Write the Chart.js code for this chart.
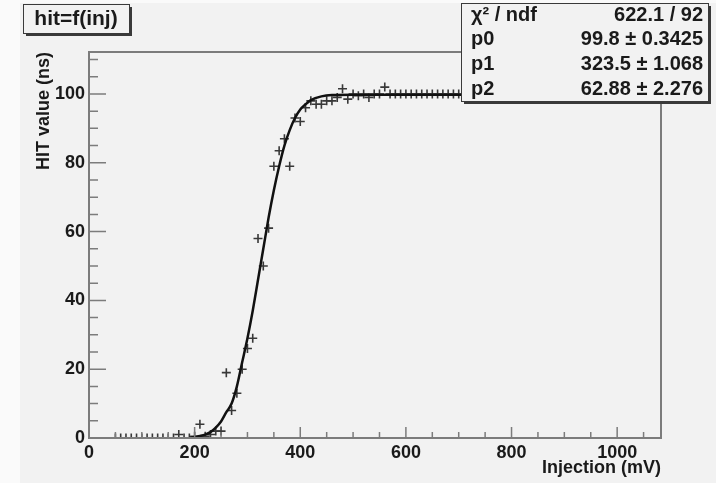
<!DOCTYPE html>
<html>
<head>
<meta charset="utf-8">
<script src="https://cdn.jsdelivr.net/npm/chart.js@4"></script>
<style>
  body { margin: 0; background: #fafafa; }
</style>
</head>
<body>
<canvas id="FitGraph" width="716" height="483"></canvas>
<script>
// measured points (injection in mV, hit value in ns)
var injX = [50, 60, 70, 80, 90, 100, 110, 120, 130, 140, 150, 160, 170, 180, 190,
  200, 210, 220, 230, 240, 250, 260, 270, 280, 290, 300, 310, 320, 330, 340,
  350, 360, 370, 380, 390, 400, 410, 420, 430, 440, 450, 460, 470, 480, 490,
  500, 510, 520, 530, 540, 550, 560, 570, 580, 590, 600, 610, 620, 630, 640,
  650, 660, 670, 680, 690, 700];
var hitY = [0, 0, 0, 0, 0, 0, 0, 0, 0, 0, 0, 0, 1, 0, 0,
  0.5, 4, 0.5, 1, 2, 2, 19, 8, 13, 20, 26, 29, 58, 50, 61,
  79, 83.5, 87, 79, 93, 92, 96, 98, 97, 97, 98, 98, 99, 101.5, 98.5,
  100, 99.5, 100, 99, 100, 100, 102, 100, 100, 100, 100, 100, 100, 100, 100,
  100, 100, 100, 100, 100, 100];

// fitted curve
var fitX = [190, 200, 210, 220, 230, 240, 250, 260, 270, 280, 290, 300, 310, 320,
  330, 340, 350, 360, 370, 380, 390, 400, 410, 420, 440, 460, 500, 600, 800, 1050];
var fitY = [0, 0.3, 0.6, 1, 1.7, 3, 4.8, 7.5, 10, 15, 22, 29, 37, 46,
  55, 64, 72, 79, 85, 89.5, 93, 95.5, 97, 98.2, 99.3, 99.7, 99.8, 99.8, 99.8, 99.8];

var xTicks = [0, 200, 400, 600, 800, 1000];
var yTicks = [0, 20, 40, 60, 80, 100];

var histTitle = 'hit=f(inj)';
var statNames = ['\u03c7\u00b2 / ndf', 'p0', 'p1', 'p2'];
var statValues = ['622.1 / 92', '99.8 \u00b1 0.3425', '323.5 \u00b1 1.068', '62.88 \u00b1 2.276'];

var FONT = '"Liberation Sans", Arial, sans-serif';

function pave(ctx, x, y, w, h) {
  ctx.fillStyle = '#3a3a3a';
  ctx.fillRect(x + 3, y + 3, w, h);
  ctx.fillStyle = '#f2f2f2';
  ctx.fillRect(x, y, w, h);
  ctx.strokeStyle = '#3a3a3a';
  ctx.lineWidth = 1;
  ctx.strokeRect(x + 0.5, y + 0.5, w, h);
}

var rootLook = {
  id: 'rootLook',
  beforeDraw: function (chart) {
    var ctx = chart.ctx;
    ctx.save();
    ctx.fillStyle = '#fafafa';
    ctx.fillRect(0, 0, chart.width, chart.height);
    ctx.fillStyle = '#f2f2f2';
    ctx.fillRect(20, 3, chart.width - 20, chart.height - 3);
    ctx.restore();
  },
  afterDraw: function (chart) {
    var ctx = chart.ctx;
    var a = chart.chartArea;
    var xs = chart.scales.x, ys = chart.scales.y;
    ctx.save();
    // frame
    ctx.strokeStyle = '#7c7c7c';
    ctx.lineWidth = 2;
    ctx.strokeRect(a.left, a.top, a.right - a.left, a.bottom - a.top);
    // ticks pointing inside, ROOT style
    ctx.lineWidth = 1.5;
    ctx.beginPath();
    for (var v = 0; v <= xs.max; v += 50) {
      var px = xs.getPixelForValue(v);
      var len = (v % 200 === 0) ? 11 : 6;
      ctx.moveTo(px, a.bottom);
      ctx.lineTo(px, a.bottom - len);
    }
    for (var w = 0; w <= ys.max; w += 5) {
      var py = ys.getPixelForValue(w);
      var l2 = (w % 20 === 0) ? 17 : 9;
      ctx.moveTo(a.left, py);
      ctx.lineTo(a.left + l2, py);
    }
    ctx.stroke();

    // title box
    pave(ctx, 23, 4, 106, 29);
    ctx.fillStyle = '#1a1a1a';
    ctx.font = 'bold 21px ' + FONT;
    ctx.textAlign = 'center';
    ctx.textBaseline = 'middle';
    ctx.fillText(histTitle, 76, 19);

    // stats box
    pave(ctx, 461, 3, 247, 98);
    ctx.fillStyle = '#1a1a1a';
    ctx.font = 'bold 20px ' + FONT;
    ctx.textBaseline = 'middle';
    for (var i = 0; i < statNames.length; i++) {
      var ty = 15 + i * 24.8;
      ctx.textAlign = 'left';
      ctx.fillText(statNames[i], 471, ty);
      ctx.textAlign = 'right';
      ctx.fillText(statValues[i], 703, ty);
    }
    ctx.restore();
  }
};

var pts = injX.map(function (x, i) { return { x: x, y: hitY[i] }; });
var fit = fitX.map(function (x, i) { return { x: x, y: fitY[i] }; });

var cfg = document.getElementById('FitGraph');
var myFitGraph = new Chart(cfg, {
  type: 'scatter',
  data: {
    datasets: [{
      label: 'fit',
      data: fit,
      showLine: true,
      borderColor: '#111111',
      borderWidth: 2.5,
      pointRadius: 0,
      cubicInterpolationMode: 'monotone'
    }, {
      label: 'hit',
      data: pts,
      pointStyle: 'cross',
      pointRadius: 4.5,
      borderWidth: 1.6,
      borderColor: '#383838',
      backgroundColor: '#383838'
    }]
  },
  plugins: [rootLook],
  options: {
    responsive: false,
    animation: false,
    layout: { padding: { left: 33, top: 52, right: 55, bottom: 0 } },
    plugins: {
      legend: { display: false },
      tooltip: { enabled: false }
    },
    scales: {
      x: {
        type: 'linear',
        min: 0,
        max: 1083,
        grid: { display: false, drawTicks: false },
        border: { display: false },
        afterBuildTicks: function (s) { s.ticks = xTicks.map(function (v) { return { value: v }; }); },
        afterFit: function (s) { s.height = 45; },
        ticks: {
          color: '#1a1a1a', padding: 4, maxRotation: 0,
          callback: function (v) { return String(v); },
          font: { family: FONT, size: 18, weight: 'bold' }
        },
        title: {
          display: true,
          text: 'Injection (mV)',
          align: 'end',
          color: '#1a1a1a',
          padding: { top: 0, bottom: 4 },
          font: { family: FONT, size: 18, weight: 'bold' }
        }
      },
      y: {
        type: 'linear',
        min: 0,
        max: 112.2,
        grid: { display: false, drawTicks: false },
        border: { display: false },
        afterBuildTicks: function (s) { s.ticks = yTicks.map(function (v) { return { value: v }; }); },
        afterFit: function (s) { s.width = 56; },
        ticks: {
          color: '#1a1a1a', padding: 4,
          callback: function (v) { return String(v); },
          font: { family: FONT, size: 18, weight: 'bold' }
        },
        title: {
          display: true,
          text: 'HIT value (ns)',
          align: 'end',
          color: '#1a1a1a',
          padding: { top: 0, bottom: 0 },
          font: { family: FONT, size: 18, weight: 'bold' }
        }
      }
    }
  }
});
</script>
</body>
</html>
